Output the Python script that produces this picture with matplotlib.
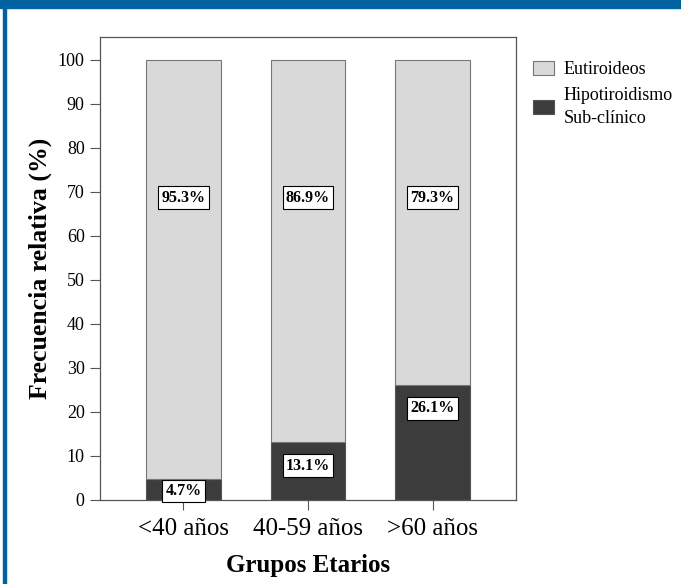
import numpy as np
import matplotlib
matplotlib.use('Agg')
import matplotlib.pyplot as plt
from matplotlib.patches import Rectangle, Patch

# Data
groups = ['<40 años', '40-59 años', '>60 años']
hipo = [4.7, 13.1, 26.1]          # Hipotiroidismo sub-clínico (%)
totals = [100, 100, 100]          # stacked bars reach 100 %
eu_labels = ['95.3%', '86.9%', '79.3%']
hipo_labels = ['4.7%', '13.1%', '26.1%']
series_names = ['Eutiroideos', 'Hipotiroidismo\nSub-clínico']

plt.rcParams['font.family'] = ['Liberation Serif', 'DejaVu Serif']

fig = plt.figure(figsize=(6.81, 5.84), dpi=100)
W, H = 681, 584
ax = fig.add_axes([100 / W, 1 - 500 / H, 416 / W, 463 / H])

x = np.arange(len(groups))
light = '#d9d9d9'
dark = '#3c3c3c'
eu = np.array(totals) - np.array(hipo)
ax.bar(x, hipo, width=0.6, color=dark, edgecolor='#555555', linewidth=0.8, zorder=2)
ax.bar(x, eu, bottom=hipo, width=0.6, color=light, edgecolor='#777777', linewidth=0.8, zorder=2)

box = dict(boxstyle='square,pad=0.2', fc='white', ec='black', lw=0.8)
for xi, h, lab_h, lab_e in zip(x, hipo, hipo_labels, eu_labels):
    ax.text(xi, 68.7, lab_e, ha='center', va='center', fontsize=11.5,
            fontweight='bold', bbox=box, zorder=4)
    ax.text(xi, max(h - 5.3, 2.1), lab_h, ha='center', va='center', fontsize=11.5,
            fontweight='bold', bbox=box, zorder=4)

ax.set_xlim(-0.67, 2.67)
ax.set_ylim(0, 105.2)
ax.set_yticks(np.arange(0, 101, 10))
ax.set_xticks(x)
ax.set_xticklabels(groups, fontsize=18)
ax.tick_params(axis='y', labelsize=13, length=7, width=0.8, color='#555555', pad=4)
ax.tick_params(axis='x', length=7, width=0.8, color='#555555', pad=6)
for s in ax.spines.values():
    s.set_color('#555555')
    s.set_linewidth(0.9)

ax.set_xlabel('Grupos Etarios', fontsize=18, fontweight='bold', labelpad=10)
ax.set_ylabel('Frecuencia relativa (%)', fontsize=18.5, fontweight='bold', labelpad=4)

handles = [Patch(facecolor=light, edgecolor='#777777', lw=0.8),
           Patch(facecolor=dark, edgecolor='#555555', lw=0.8)]
leg = fig.legend(handles, series_names, loc='upper left', bbox_to_anchor=(533 / W, 1 - 61 / H),
                 frameon=False, fontsize=13, handlelength=1.15, handleheight=0.8,
                 handletextpad=0.55, labelspacing=0.5, borderaxespad=0, borderpad=0)
for t in leg.get_texts():
    t.set_linespacing(1.45)

# blue frame of the figure
fig.patches.append(Rectangle((0, 1 - 8 / H), 1, 8 / H, transform=fig.transFigure,
                             color='#0060a0', zorder=5))
fig.patches.append(Rectangle((3 / W, 0), 3 / W, 1, transform=fig.transFigure,
                             color='#0060a0', zorder=5))

fig.savefig('out.png', dpi=100)
